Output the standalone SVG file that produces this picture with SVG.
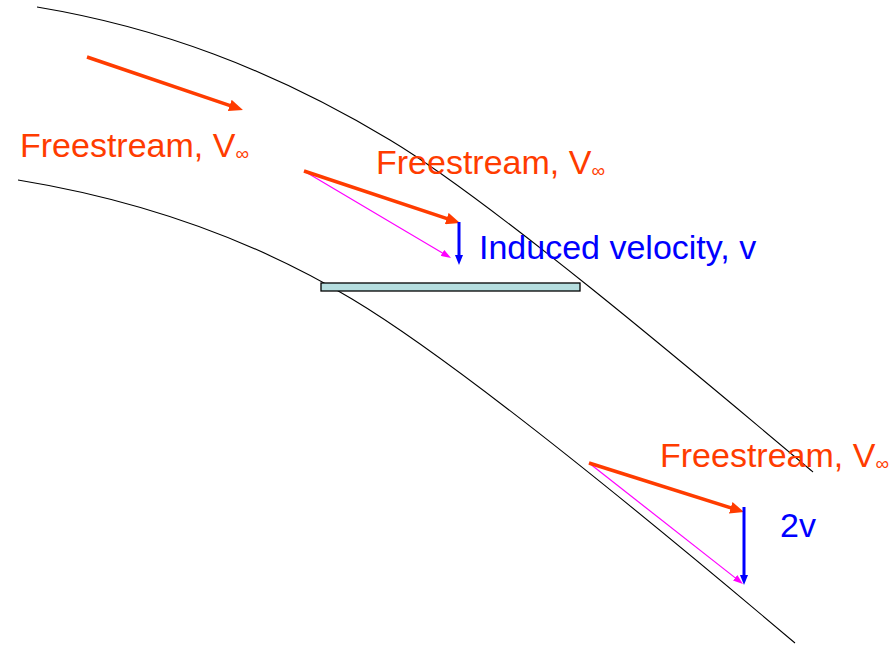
<svg xmlns="http://www.w3.org/2000/svg" width="896" height="649" viewBox="0 0 896 649">
<style>
.stream{fill:none;stroke:#000;stroke-width:1.1}
.red{stroke:#FF3C00;stroke-width:3.5;fill:none}
.blue{stroke:#0000FF;stroke-width:3;fill:none}
.pink{stroke:#FF00FF;stroke-width:1.2;fill:none}
.lbl{font-family:"Liberation Sans",Arial,sans-serif;font-size:34px}
.lr{fill:#FF3C00}
.lb{fill:#0000FF}
.inf{font-size:19px}
</style>
<defs>
<marker id="mRed" markerUnits="userSpaceOnUse" markerWidth="14" markerHeight="12" refX="2" refY="6" orient="auto"><path d="M0,0 L14,6 L0,12 z" fill="#FF3C00"/></marker>
<marker id="mBlue" markerUnits="userSpaceOnUse" markerWidth="10" markerHeight="8" refX="2" refY="4" orient="auto"><path d="M0,0 L10,4 L0,8 z" fill="#0000FF"/></marker>
<marker id="mPink" markerUnits="userSpaceOnUse" markerWidth="10" markerHeight="7" refX="1" refY="3.5" orient="auto"><path d="M0,0 L10,3.5 L0,7 z" fill="#FF00FF"/></marker>
</defs>
<rect width="896" height="649" fill="#fff"/>
<g id="streamlines">
<path class="stream" d="M37,7 C157,27 270,68 390,140 C490,200 693,371 813,472"/>
<path class="stream" d="M18,180 C128,198 242,233 352,299 C462,365 665,533 795,643"/>
</g>
<g id="plate">
<rect x="321" y="283" width="259" height="8" fill="#B5DEDF" stroke="#000" stroke-width="1.3"/>
</g>
<g id="connectors">
<line class="red" x1="87" y1="57" x2="231.6" y2="106.1" marker-end="url(#mRed)"/>
<line class="pink" x1="304" y1="171" x2="443.3" y2="253.4" marker-end="url(#mPink)"/>
<line class="red" x1="304" y1="171" x2="448.6" y2="219.2" marker-end="url(#mRed)"/>
<line class="blue" x1="459" y1="222" x2="459" y2="257" marker-end="url(#mBlue)"/>
<line class="pink" x1="589" y1="463" x2="735.9" y2="578.4" marker-end="url(#mPink)"/>
<line class="red" x1="589" y1="463" x2="732.6" y2="508.4" marker-end="url(#mRed)"/>
<line class="blue" x1="744" y1="507" x2="744" y2="577" marker-end="url(#mBlue)"/>
</g>
<g id="label-freestream-1"><text class="lbl lr" x="20" y="157">Freestream, V<tspan class="inf" dy="3">∞</tspan></text></g>
<g id="label-freestream-2"><text class="lbl lr" x="376" y="174">Freestream, V<tspan class="inf" dy="3">∞</tspan></text></g>
<g id="label-induced"><text class="lbl lb" x="479" y="259">Induced velocity,  v</text></g>
<g id="label-freestream-3"><text class="lbl lr" x="660" y="467">Freestream, V<tspan class="inf" dy="3">∞</tspan></text></g>
<g id="label-2v"><text class="lbl lb" x="780" y="537">2v</text></g>
</svg>
